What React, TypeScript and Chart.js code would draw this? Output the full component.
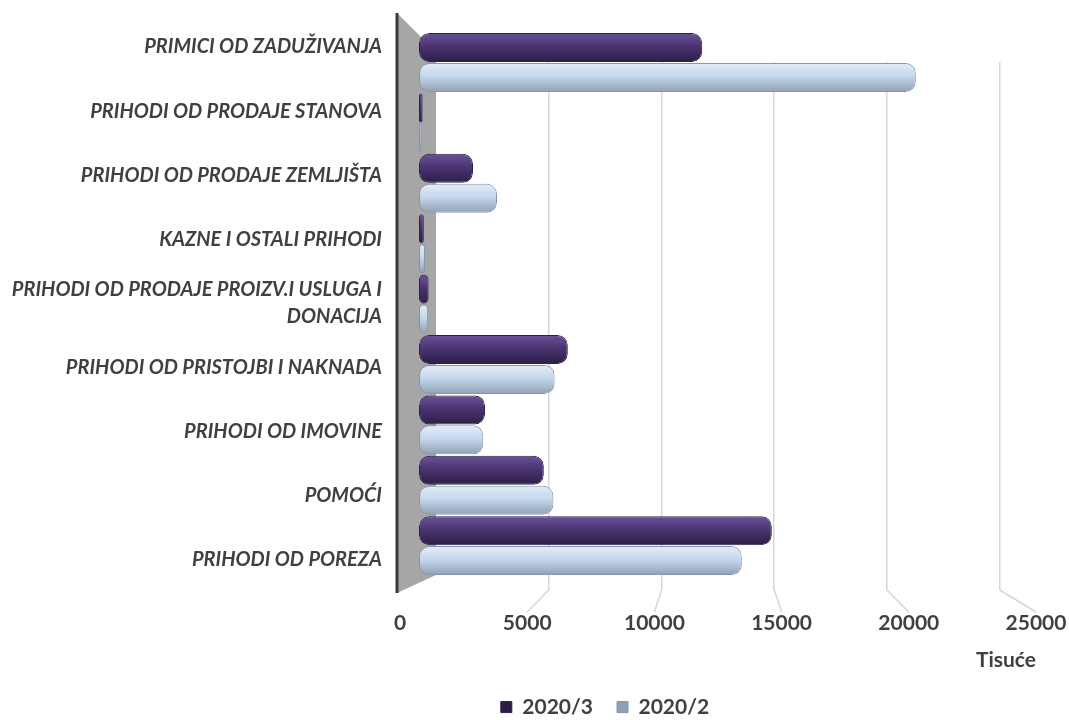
import React, { useEffect, useRef } from "react";
import { Chart, registerables } from "chart.js";

Chart.register(...registerables);

// ---- Data ----
const CATEGORIES: (string | string[])[] = [
  "PRIMICI OD ZADUŽIVANJA",
  "PRIHODI OD PRODAJE STANOVA",
  "PRIHODI OD PRODAJE ZEMLJIŠTA",
  "KAZNE I OSTALI PRIHODI",
  ["PRIHODI OD PRODAJE PROIZV.I USLUGA I", "DONACIJA"],
  "PRIHODI OD PRISTOJBI I NAKNADA",
  "PRIHODI OD IMOVINE",
  "POMOĆI",
  "PRIHODI OD POREZA",
];
const SERIES_NAMES = ["2020/3", "2020/2"];
const VALUES_2020_3 = [11800, 150, 2250, 200, 400, 6200, 2750, 5200, 14700];
const VALUES_2020_2 = [20700, 100, 3250, 250, 380, 5650, 2680, 5600, 13450];
const X_TICKS = [0, 5000, 10000, 15000, 20000, 25000];
const AXIS_TITLE = "Tisuće";

const TEXT = "#404040";

function barFill(top: string, mid: string, bottom: string, slot: number) {
  return (ctx: any) => {
    const chart = ctx.chart;
    const ys = chart.scales && chart.scales.y;
    if (ctx.type !== "data" || !ys) return mid;
    const c = ys.getPixelForValue(ctx.dataIndex);
    const h = (Math.abs(ys.getPixelForValue(1) - ys.getPixelForValue(0)) * 0.99) / 2;
    if (!isFinite(c) || !isFinite(h) || h <= 0) return mid;
    const y0 = slot === 0 ? c - h : c;
    const g = chart.ctx.createLinearGradient(0, y0, 0, y0 + h);
    g.addColorStop(0, top);
    g.addColorStop(0.45, mid);
    g.addColorStop(1, bottom);
    return g;
  };
}

const wallPlugin = {
  id: "wall",
  afterLayout(chart: any) {
    // centre the legend row under the plot like the original
    if (chart.legend) chart.legend.left = 174;
  },
  beforeDatasetsDraw(chart: any) {
    const { ctx, chartArea } = chart;
    const xg = chart.scales.xg;
    const xl = chart.scales.xl;
    const left = chartArea.left;
    const right = xg.getPixelForValue(0);
    const top = chartArea.top - 49;
    ctx.save();
    // floor lines (perspective continuation of the grid)
    ctx.strokeStyle = "#d6d6d6";
    ctx.lineWidth = 1.5;
    X_TICKS.filter((v) => v > 0).forEach((v) => {
      ctx.beginPath();
      ctx.moveTo(xg.getPixelForValue(v), chartArea.bottom);
      ctx.lineTo(xl.getPixelForValue(v), chartArea.bottom + 22);
      ctx.stroke();
    });
    // back wall
    ctx.fillStyle = "#a6a6a6";
    ctx.beginPath();
    ctx.moveTo(left, top);
    ctx.lineTo(right, chartArea.top - 10);
    ctx.lineTo(right, chartArea.bottom - 15);
    ctx.lineTo(left, chartArea.bottom + 3);
    ctx.closePath();
    ctx.fill();
    ctx.strokeStyle = "#3a3a3a";
    ctx.lineWidth = 3;
    ctx.beginPath();
    ctx.moveTo(left, top);
    ctx.lineTo(left, chartArea.bottom + 3);
    ctx.stroke();
    ctx.restore();
  },
};

export default function App() {
  const canvasRef = useRef<HTMLCanvasElement | null>(null);

  useEffect(() => {
    if (!canvasRef.current) return;
    Chart.defaults.font.family = "Lato";
    const indexTicks = (s: any) => {
      s.ticks = CATEGORIES.map((_, i) => ({ value: i }));
    };
    const chart = new Chart(canvasRef.current, {
      type: "bar",
      data: {
        datasets: [
          {
            label: SERIES_NAMES[0],
            data: VALUES_2020_3.map((v, i) => ({ x: v, y: i })),
            xAxisID: "x",
            yAxisID: "y",
            backgroundColor: barFill("#6a549a", "#4b3572", "#2b1d45", 0),
            borderColor: "#2e2048",
            borderWidth: 1,
            borderRadius: 10,
            borderSkipped: false,
            categoryPercentage: 0.99,
            barPercentage: 0.97,
            clip: false,
          } as any,
          {
            label: SERIES_NAMES[1],
            data: VALUES_2020_2.map((v, i) => ({ x: v, y: i })),
            xAxisID: "x",
            yAxisID: "y",
            backgroundColor: barFill("#e3edf8", "#c6d8ec", "#8e9fb4", 1),
            borderColor: "#8796aa",
            borderWidth: 1,
            borderRadius: 10,
            borderSkipped: false,
            categoryPercentage: 0.99,
            barPercentage: 0.97,
            clip: false,
          } as any,
        ],
      },
      options: {
        indexAxis: "y",
        responsive: false,
        animation: false,
        events: [],
        layout: { padding: { left: 0, right: 33, top: 62, bottom: -7.6 } },
        scales: {
          y: {
            type: "linear",
            display: false,
            offset: false,
            reverse: true,
            min: -0.008,
            max: 8.734,
            afterBuildTicks: indexTicks,
          },
          yl: {
            type: "linear",
            position: "left",
            offset: false,
            reverse: true,
            min: 0.234,
            max: 8.471,
            afterBuildTicks: indexTicks,
            afterFit: (s: any) => {
              s.width = 397;
            },
            grid: { display: false, drawTicks: false, offset: false },
            border: { display: false },
            ticks: {
              autoSkip: false,
              padding: 15,
              color: TEXT,
              font: { family: "Lato", size: 20, weight: "bold", style: "italic", lineHeight: 1.35 },
              callback: (v: any) => (CATEGORIES[v as number] ?? "") as any,
            },
          },
          x: {
            type: "linear",
            display: false,
            min: -917,
            max: 25708,
          },
          xg: {
            type: "linear",
            position: "top",
            min: -1729,
            max: 26608,
            afterBuildTicks: (s: any) => {
              s.ticks = X_TICKS.map((v) => ({ value: v }));
            },
            ticks: { display: false },
            grid: {
              drawTicks: false,
              lineWidth: 1.5,
              color: (c: any) => (c.tick && c.tick.value === 0 ? "rgba(0,0,0,0)" : "#d6d6d6"),
            },
            border: { display: false },
          },
          xl: {
            type: "linear",
            position: "bottom",
            min: -118,
            max: 25000,
            afterBuildTicks: (s: any) => {
              s.ticks = X_TICKS.map((v) => ({ value: v }));
            },
            afterFit: (s: any) => {
              s.paddingRight = 0;
              s.paddingLeft = 0;
            },
            grid: { display: false, drawTicks: false },
            border: { display: false },
            ticks: {
              padding: 20.4,
              color: TEXT,
              font: { family: "Lato", size: 21, weight: "bold" },
              callback: (v: any) => String(v),
            },
            title: {
              display: true,
              text: AXIS_TITLE,
              align: "end",
              color: TEXT,
              padding: { top: -8.6, bottom: 0 },
              font: { family: "Lato", size: 21, weight: "bold" },
            },
          },
        },
        plugins: {
          legend: {
            position: "bottom",
            labels: {
              boxWidth: 11,
              boxHeight: 11,
              padding: 24,
              color: TEXT,
              font: { family: "Lato", size: 21, weight: "bold" },
            },
          },
          tooltip: { enabled: false },
        },
      } as any,
      plugins: [wallPlugin],
    });
    return () => chart.destroy();
  }, []);

  return (
    <div style={{ position: "fixed", left: 0, top: 0, width: 1069, height: 720, background: "#ffffff" }}>
      <canvas ref={canvasRef} width={1069} height={720} style={{ display: "block" }} />
    </div>
  );
}
